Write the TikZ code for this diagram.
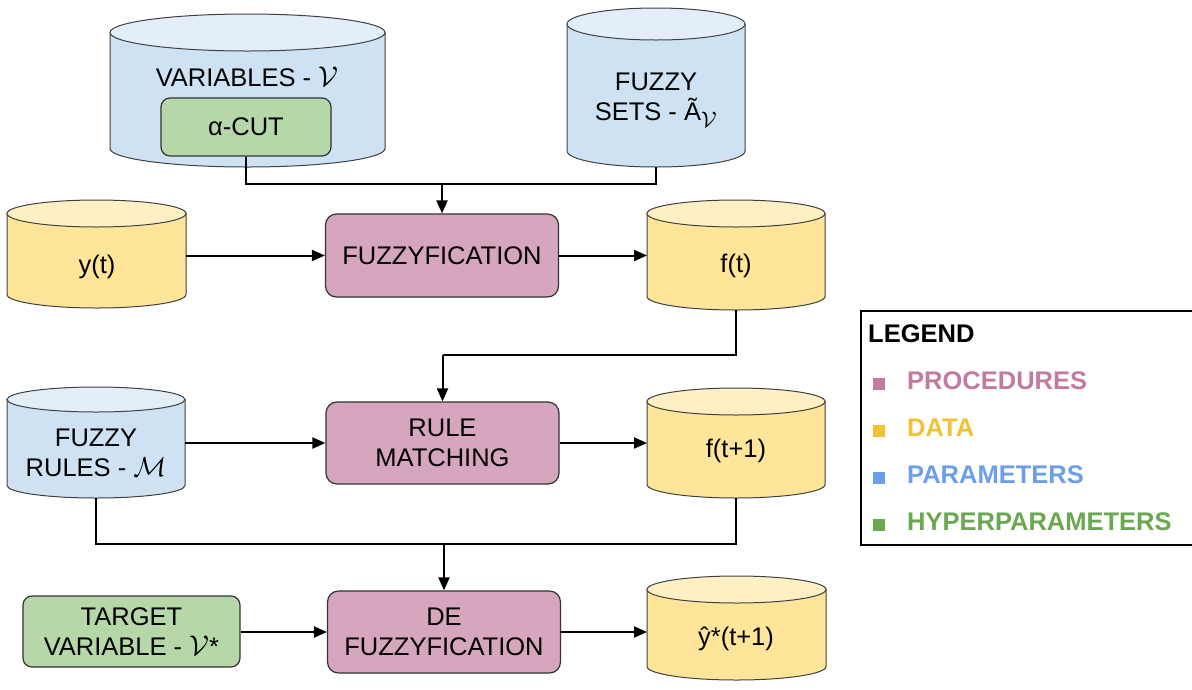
\documentclass[tikz,border=0pt]{standalone}
\usepackage{fontspec}
\setmainfont{Liberation Sans}
\usetikzlibrary{arrows.meta,calc}
\definecolor{blueB}{HTML}{CFE2F3}
\definecolor{blueT}{HTML}{E3EEF8}
\definecolor{yelB}{HTML}{FFE599}
\definecolor{yelT}{HTML}{FFF0C4}
\definecolor{pinkF}{HTML}{D5A6BD}
\definecolor{greenF}{HTML}{B6D7A8}
\definecolor{legP}{HTML}{C27BA0}
\definecolor{legD}{HTML}{F1C232}
\definecolor{legB}{HTML}{6D9EEB}
\definecolor{legG}{HTML}{6AA84F}
\newcommand\myCalV{\scalebox{1.15}{$\mathcal{V}$}}
\newcommand\myCalM{\scalebox{1.1}{$\mathcal{M}$}}
\tikzset{
 lbl/.style={font=\fontsize{25.5}{30.5}\selectfont, align=center, inner sep=0pt},
 proc/.style={draw=black!80, line width=1.2pt, fill=pinkF, rounded corners=11pt, minimum width=233pt, minimum height=83pt, lbl},
 hyper/.style={draw=black!80, line width=1.2pt, fill=greenF, rounded corners=9pt, lbl},
 cylbox/.style={inner sep=0pt, outer sep=0pt, rectangle},
 cylline/.style={draw=black!75, line width=1pt},
 conn/.style={line width=2pt, -{Triangle[length=13pt,width=11pt]}},
 wire/.style={line width=2pt},
 legtxt/.style={font=\fontsize{25.5}{30}\selectfont\bfseries, anchor=west, inner sep=0pt},
 legsq/.style={minimum size=12pt, inner sep=0pt},
}
% #1 name, #2 cx, #3 cy, #4 w, #5 h, #6 ry, #7 body colour, #8 top colour
\newcommand\mycyl[8]{%
 \node[cylbox, minimum width=#4pt, minimum height=#5pt] (#1) at (#2,#3) {};
 \filldraw[fill=#7, cylline] ($(#1.north west)+(0,#6)$) -- ($(#1.south west)+(0,-#6)$)
   arc[start angle=180, end angle=0, x radius=#4/2, y radius=#6] -- ($(#1.north east)+(0,#6)$) -- cycle;
 \filldraw[fill=#8, cylline] ($(#1.north)+(0,#6)$) ellipse[x radius=#4/2, y radius=#6];
}
\begin{document}
\begin{tikzpicture}[x=1pt,y=-1pt]
\useasboundingbox (0,0) rectangle (1192,689);
\clip (0,0) rectangle (1192,689);
% cylinders
\mycyl{vars}{247.5}{90.5}{275}{153}{18.5}{blueB}{blueT}
\mycyl{fsets}{656}{87.5}{178}{159}{16}{blueB}{blueT}
\mycyl{yt}{96.5}{254}{179}{108}{13.5}{yelB}{yelT}
\mycyl{ft}{736}{255}{178}{110}{13.5}{yelB}{yelT}
\mycyl{frules}{96}{442.5}{178}{111}{12.5}{blueB}{blueT}
\mycyl{ft1}{736}{443}{178}{110}{13.5}{yelB}{yelT}
\mycyl{yhat}{736.5}{628}{179}{104}{13.5}{yelB}{yelT}
% cylinder labels
\node[lbl] (vars-t) at (247,77) {VARIABLES - \myCalV};
\node[lbl] (fsets-t) at (656,100) {FUZZY\\SETS - Ã$_{\scalebox{1.3}{$\scriptstyle\mathcal{V}$}}$};
\node[lbl] (yt-t) at (97,267) {y(t)};
\node[lbl] (ft-t) at (736,266) {f(t)};
\node[lbl] (frules-t) at (96,453) {FUZZY\\RULES - \myCalM};
\node[lbl] (ft1-t) at (736,451) {f(t+1)};
\node[lbl] (yhat-t) at (736,639) {ŷ*(t+1)};
% boxes
\node[hyper, minimum width=170pt, minimum height=58pt] (acut) at (246,127) {α-CUT};
\node[hyper, minimum width=217pt, minimum height=71pt] (target) at (131.5,631.5) {TARGET\\VARIABLE - \myCalV*};
\node[proc] (fuzz) at (442,255.5) {FUZZYFICATION};
\node[proc, minimum height=82pt] (rule) at (442.5,443) {RULE\\MATCHING};
\node[proc, minimum height=82pt] (de) at (444,632) {DE\\FUZZYFICATION};
% junctions
\coordinate (j1) at (442,184);
\coordinate (j2) at (442.5,355);
\coordinate (j3) at (444,544);
% connectors
\draw[wire] (acut.south) |- (j1);
\draw[wire] (fsets.south) |- (j1);
\draw[conn] (j1) -- (fuzz.north);
\draw[conn] (fuzz.west -| yt.east) -- (fuzz.west);
\draw[conn] (fuzz.east) -- (fuzz.east -| ft.west);
\draw[wire] (ft.south) |- (j2);
\draw[conn] (j2) -- (rule.north);
\draw[conn] (rule.west -| frules.east) -- (rule.west);
\draw[conn] (rule.east) -- (rule.east -| ft1.west);
\draw[wire] (frules.south) |- (j3);
\draw[wire] (ft1.south) |- (j3);
\draw[conn] (j3) -- (de.north);
\draw[conn] (de.west -| target.east) -- (de.west);
\draw[conn] (de.east) -- (de.east -| yhat.west);
% legend
\node[draw, line width=2pt, minimum width=340pt, minimum height=234pt, inner sep=0pt] (legend) at (1031,428) {};
\node[legtxt] (leg-h) at (868,334) {LEGEND};
\node[legsq, fill=legP] (sq1) at (879,384) {};
\node[legsq, fill=legD] (sq2) at (879,431) {};
\node[legsq, fill=legB] (sq3) at (879,478) {};
\node[legsq, fill=legG] (sq4) at (879,525) {};
\node[legtxt, text=legP] (leg1) at (907,381) {PROCEDURES};
\node[legtxt, text=legD] (leg2) at (907,428) {DATA};
\node[legtxt, text=legB] (leg3) at (907,475) {PARAMETERS};
\node[legtxt, text=legG] (leg4) at (907,522) {HYPERPARAMETERS};
\end{tikzpicture}
\end{document}
